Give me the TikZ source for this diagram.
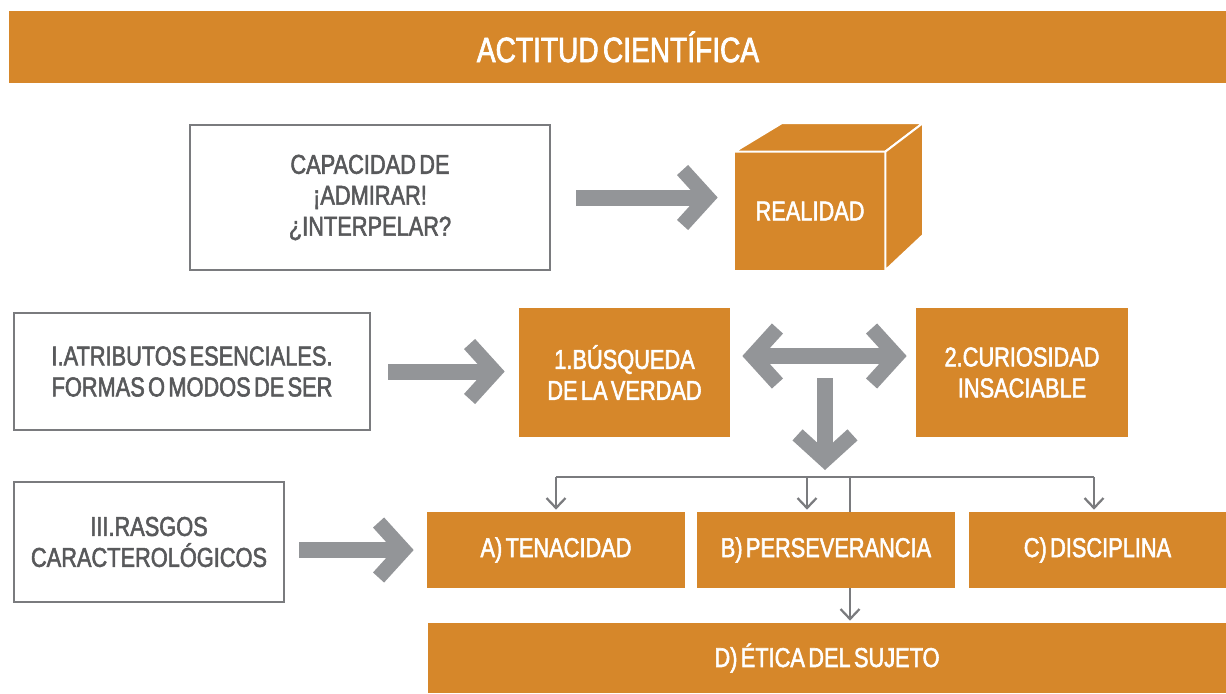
\documentclass[tikz,border=0pt]{standalone}
\usepackage{fontspec}
\setmainfont{Liberation Sans}[FakeStretch=0.8, FakeBold=2, WordSpace=0.55]
\usetikzlibrary{arrows.meta}
\definecolor{naranja}{HTML}{D6872A}
\definecolor{gris}{HTML}{939598}
\definecolor{borde}{HTML}{7A7B7E}
\definecolor{texto}{HTML}{58595B}
\tikzstyle{titlebar} = [rectangle, minimum width=24.36cm, minimum height=1.46cm, inner sep=0pt, fill=naranja, text=white, font=\fontsize{20}{24}\selectfont]
\tikzstyle{whitebox} = [rectangle, inner sep=0pt, draw=borde, line width=0.045cm, fill=white, text=texto, align=center, font=\fontsize{15.5}{17.6}\selectfont]
\tikzstyle{orangebox} = [rectangle, inner sep=0pt, fill=naranja, text=white, align=center, font=\fontsize{15.5}{17.6}\selectfont]
\tikzstyle{cubeface} = [fill=naranja, draw=white, line width=0.04cm, line join=round]
\tikzstyle{fatarrow} = [draw=gris, line width=0.32cm, -{Straight Barb[sharp, length=0.5cm, width=1.1cm, line width=0.3cm]}]
\tikzstyle{fatdouble} = [draw=gris, line width=0.32cm, {Straight Barb[sharp, length=0.5cm, width=1.1cm, line width=0.3cm]}-{Straight Barb[sharp, length=0.5cm, width=1.1cm, line width=0.3cm]}]
\tikzstyle{thinline} = [draw=borde, line width=0.045cm]
\tikzstyle{thinarrow} = [thinline, -{Straight Barb[length=0.2cm, width=0.38cm]}, shorten >=0.04cm]

\begin{document}
\begin{tikzpicture}[x=0.02cm, y=-0.02cm]
    \useasboundingbox (0,0) rectangle (1226,693);

    % Title
    \node (titulo) [titlebar] at (618,47) {ACTITUD CIENTÍFICA};

    % First row
    \node (capacidad) [whitebox, minimum width=7.2cm, minimum height=2.9cm] at (370,197.5) {CAPACIDAD DE\\¡ADMIRAR!\\¿INTERPELAR?};
    \node (realidad) [orangebox, minimum width=3cm, minimum height=2.36cm] at (810,211) {REALIDAD};
    \filldraw [cubeface] (realidad.north west) -- (782,123) -- (923,123) -- (realidad.north east) -- cycle;
    \filldraw [cubeface] (realidad.north east) -- (923,123) -- (923,235) -- (realidad.south east) -- cycle;

    % Second row
    \node (atributos) [whitebox, minimum width=7.12cm, minimum height=2.34cm] at (192,371.5) {I.ATRIBUTOS ESENCIALES.\\FORMAS O MODOS DE SER};
    \node (busqueda) [orangebox, minimum width=4.22cm, minimum height=2.58cm] at (624.5,372.5) {1.BÚSQUEDA\\DE LA VERDAD};
    \node (curiosidad) [orangebox, minimum width=4.24cm, minimum height=2.58cm] at (1022,372.5) {2.CURIOSIDAD\\INSACIABLE};

    % Third row
    \node (rasgos) [whitebox, minimum width=5.4cm, minimum height=2.4cm] at (149,542) {III.RASGOS\\CARACTEROLÓGICOS};
    \node (tenacidad) [orangebox, minimum width=5.16cm, minimum height=1.52cm] at (556,550) {A) TENACIDAD};
    \node (perseverancia) [orangebox, minimum width=5.16cm, minimum height=1.52cm] at (826,550) {B) PERSEVERANCIA};
    \node (disciplina) [orangebox, minimum width=5.14cm, minimum height=1.52cm] at (1097.5,550) {C) DISCIPLINA};
    \node (etica) [orangebox, minimum width=15.96cm, minimum height=1.4cm] at (827,658) {D) ÉTICA DEL SUJETO};

    % Branch points
    \coordinate (horca) at (825,378);
    \coordinate (busA) at (556,477);
    \coordinate (busB) at (807,477);
    \coordinate (busD) at (850,477);
    \coordinate (busC) at (1094,477);

    % Fat arrows
    \draw [fatarrow, shorten <=0.5cm, shorten >=0.34cm] (capacidad.east) -- (capacidad.east -| realidad.west);
    \draw [fatarrow, shorten <=0.34cm, shorten >=0.28cm] (atributos.east) -- (atributos.east -| busqueda.west);
    \draw [fatdouble, shorten <=0.24cm, shorten >=0.18cm] ([yshift=0.33cm]busqueda.east) -- ([yshift=0.33cm]curiosidad.west);
    \draw [fatarrow, shorten >=0.14cm] (horca) -- (horca |- busA);
    \draw [fatarrow, shorten <=0.28cm, shorten >=0.26cm] (tenacidad.west -| rasgos.east) -- (tenacidad.west);

    % Thin arrows
    \draw [thinline] (busA) -- (busC);
    \draw [thinarrow] (busA) -- (busA |- tenacidad.north);
    \draw [thinarrow] (busB) -- (busB |- perseverancia.north);
    \draw [thinarrow] (busC) -- (busC |- disciplina.north);
    \draw [thinline] (busD) -- (busD |- perseverancia.north);
    \draw [thinarrow] (busD |- perseverancia.south) -- (busD |- etica.north);

\end{tikzpicture}
\end{document}
